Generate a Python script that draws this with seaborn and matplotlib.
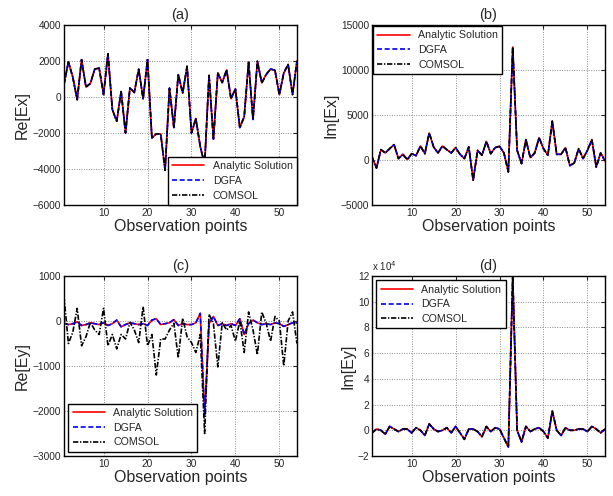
import matplotlib
matplotlib.use('Agg')
import matplotlib.pyplot as plt
import pandas as pd
import seaborn as sns

sns.set_style('white')
plt.rcParams['font.family'] = ['Liberation Sans', 'DejaVu Sans']

# observation points 1..54
points = list(range(1, 55))

# (a) Re[Ex] - all three methods overlap
re_ex = [700, 1950, 1100, -150, 2070, 550, 750, 1550, 1600, 130,
         2400, -700, -1350, 300, -2000, 500, 250, 1550, -100, 2070,
         -2280, -2050, -2050, -4070, 500, -1700, 1240, 220, 1700, -2000,
         -1200, -2750, -3750, 1200, -2350, 1330, 800, 1500, -100, 450,
         -1700, -1100, 1930, -1250, 1980, 780, 1250, 1550, 1480, 130,
         1330, 1800, 130, 2000]

# (b) Im[Ex]
im_ex = [330, -890, 1150, 780, 1260, 1700, 150, 630, 40, 700,
         480, 1550, 700, 3000, 1450, 780, 1550, 1150, 780, 1370,
         630, 150, 1450, -2250, 1070, 520, 2070, 700, 1370, 1520,
         780, -1330, 12550, 1070, -400, 2260, 260, 780, 2480, 1260,
         520, 4330, 630, 630, 1370, -630, -330, 1260, 150, 1070,
         2260, -780, 780, -110]

# (c) Re[Ey] - analytic / DGFA agree, COMSOL differs
re_ey_analytic = [-50, -80, -60, -20, -100, -80, -40, -60, -80, -40,
                  -100, -60, 20, -130, -80, -40, -60, -80, -60, -100,
                  20, 50, -80, -60, -40, 30, -100, -60, -80, -80,
                  -40, 170, -2100, -60, 100, -100, -60, -100, -60, -100,
                  50, -300, -60, 20, -40, -80, -60, -80, -40, -60,
                  -120, -80, -40, -40]
re_ey_comsol = [550, -500, -250, 280, -550, -350, -30, -200, -300, 280,
                -550, -300, -620, -300, -400, -30, -200, -480, 320, -550,
                -300, -1200, -400, -400, -200, -50, -820, 60, -350, -480,
                -700, -300, -2500, 150, -60, -1020, -40, -200, -100, -450,
                0, -700, 200, -200, -750, 200, -50, -450, 100, 0,
                -1000, 0, 200, -500]

# (d) Im[Ey], in units of 10^4
im_ey = [-0.2, 0.1, 0.0, -0.3, 0.3, 0.1, -0.1, 0.1, 0.1, -0.2,
         0.2, 0.0, -0.4, 0.5, 0.1, -0.1, 0.0, 0.2, -0.2, 0.3,
         -0.2, -0.7, 0.1, 0.1, -0.1, -0.5, 0.3, -0.1, 0.2, 0.1,
         -0.6, -1.3, 12.0, 0.0, -0.9, 0.3, -0.1, 0.1, 0.2, -0.1,
         -0.6, 1.5, 0.0, -0.4, 0.2, 0.0, 0.0, 0.1, 0.1, -0.1,
         0.3, 0.1, -0.2, 0.1]

methods = ['Analytic Solution', 'DGFA', 'COMSOL']
colors = {'Analytic Solution': 'red', 'DGFA': 'blue', 'COMSOL': 'black'}
styles = {'Analytic Solution': '-', 'DGFA': (0, (3, 1.6)),
          'COMSOL': (0, (3.2, 1.0, 0.8, 1.0))}

panels = [
    dict(title='(a)', ylabel='Re[Ex]', series=[re_ex, re_ex, re_ex],
         ylim=(-6000, 4000), yticks=[-6000, -4000, -2000, 0, 2000, 4000],
         pos=[0.1044, 0.5867, 0.380, 0.363], loc='lower right', pad=0.0),
    dict(title='(b)', ylabel='Im[Ex]', series=[im_ex, im_ex, im_ex],
         ylim=(-5000, 15000), yticks=[-5000, 0, 5000, 10000, 15000],
         pos=[0.607, 0.5867, 0.380, 0.363], loc='upper left', pad=0.1),
    dict(title='(c)', ylabel='Re[Ey]',
         series=[re_ey_analytic, re_ey_analytic, re_ey_comsol],
         ylim=(-3000, 1000), yticks=[-3000, -2000, -1000, 0, 1000],
         pos=[0.1044, 0.0806, 0.380, 0.363], loc='lower left', pad=0.4),
    dict(title='(d)', ylabel='Im[Ey]', series=[im_ey, im_ey, im_ey],
         ylim=(-2, 12), yticks=[-2, 0, 2, 4, 6, 8, 10, 12],
         pos=[0.607, 0.0806, 0.380, 0.363], loc='upper left', pad=0.4),
]

fig = plt.figure(figsize=(6.13, 4.96), dpi=100)

for p in panels:
    ax = fig.add_axes(p['pos'])
    for m, vals in zip(methods, p['series']):
        df = pd.DataFrame({'point': points, 'value': vals})
        sns.lineplot(data=df, x='point', y='value', ax=ax, color=colors[m],
                     linestyle=styles[m], linewidth=1.2, label=m)
    ax.set_xlim(1, 54)
    ax.set_ylim(*p['ylim'])
    ax.set_xticks([10, 20, 30, 40, 50])
    ax.set_yticks(p['yticks'])
    ax.grid(True, color='0.55', linestyle=(0, (1, 1.5)), linewidth=0.7)
    ax.tick_params(direction='in', length=3, labelsize=7.3, top=True,
                   right=True, pad=2)
    for s in ax.spines.values():
        s.set_linewidth(1.0)
        s.set_color('black')
    ax.set_title(p['title'], fontsize=10.5, pad=4)
    ax.set_xlabel('Observation points', fontsize=11.5, labelpad=1)
    ax.set_ylabel(p['ylabel'], fontsize=11.5, labelpad=2)
    leg = ax.legend(loc=p['loc'], fontsize=7.7, borderaxespad=p['pad'],
                    handlelength=3.0, labelspacing=0.45, fancybox=False,
                    framealpha=1, edgecolor='black')
    leg.get_frame().set_linewidth(1.0)
    if p['title'] == '(d)':
        ax.text(0.0, 1.015, r'x 10$^4$', transform=ax.transAxes,
                fontsize=7, ha='left', va='bottom')

fig.savefig('out.png', dpi=100)
